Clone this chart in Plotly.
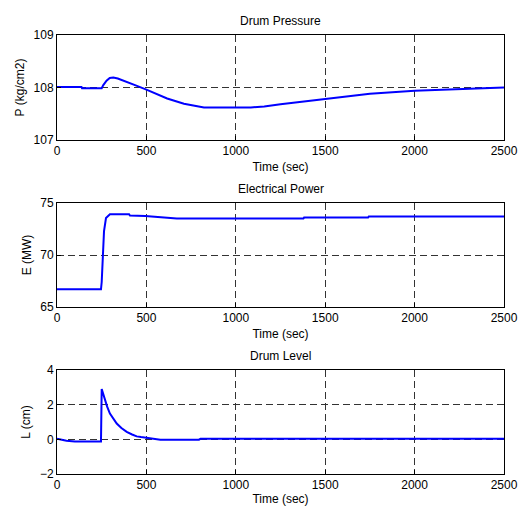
import plotly.graph_objects as go

# ---- data ----
t_pressure = [0, 137, 140, 250, 259, 277, 295, 315, 340, 390, 440, 500, 560, 616, 710,
              822, 1084, 1159, 1250, 1309, 1500, 1750, 2000, 2250, 2500]
pressure = [108.01, 108.01, 107.985, 107.985, 108.045, 108.13, 108.18, 108.19, 108.17,
            108.11, 108.04, 107.96, 107.87, 107.79, 107.69, 107.62, 107.62, 107.64,
            107.68, 107.705, 107.78, 107.88, 107.94, 107.975, 108.0]

t_power = [0, 246, 250, 255, 263, 274, 296, 403, 408, 493, 540, 670, 1378, 1382,
           1740, 1744, 2500]
power = [66.7, 66.7, 67.4, 70.0, 72.3, 73.55, 73.92, 73.92, 73.8, 73.75, 73.68, 73.5,
         73.5, 73.6, 73.6, 73.7, 73.7]

t_level = [0, 53, 100, 246, 250, 268, 280, 296, 315, 334, 360, 390, 420, 446, 470,
           500, 578, 794, 803, 2500]
level = [0.04, -0.08, -0.13, -0.13, 2.9, 2.26, 1.9, 1.49, 1.18, 0.91, 0.65, 0.43, 0.28,
         0.17, 0.13, 0.1, -0.02, -0.02, 0.04, 0.03]

titles = ["Drum Pressure", "Electrical Power", "Drum Level"]
ylabels = ["P (kg/cm2)", "E (MW)", "L (cm)"]
yranges = [[107, 109], [65, 75], [-2, 4]]
ydticks = [1, 5, 2]
xlabel = "Time (sec)"

FONT = "Liberation Sans, Arial, sans-serif"
domains = [[0.7608, 1.0], [0.3804, 0.6173], [0.0, 0.2369]]

fig = go.Figure()
series = [(t_pressure, pressure), (t_power, power), (t_level, level)]
for i, (tx, vy) in enumerate(series):
    n = "" if i == 0 else str(i + 1)
    fig.add_trace(go.Scatter(x=tx, y=vy, mode="lines",
                             line=dict(color="#0000FF", width=2),
                             xaxis="x" + n, yaxis="y" + n, showlegend=False))
    axcommon = dict(showline=True, linecolor="black", linewidth=1, mirror=True,
                    ticks="inside", ticklen=4, tickcolor="black", automargin=False,
                    showgrid=True, gridcolor="#333333", gridwidth=1, griddash="7px,4px",
                    zeroline=False, tickfont=dict(size=12, color="black", family=FONT))
    fig.layout["xaxis" + n] = dict(axcommon, domain=[0, 1], range=[0, 2500], dtick=500,
                                   anchor="y" + n,
                                   title=dict(text=xlabel, standoff=5,
                                              font=dict(size=12, color="black", family=FONT)))
    fig.layout["yaxis" + n] = dict(axcommon, domain=domains[i], range=yranges[i],
                                   dtick=ydticks[i], anchor="x" + n,
                                   title=dict(text=ylabels[i], standoff=6,
                                              font=dict(size=12, color="black", family=FONT)))
    fig.add_annotation(text=titles[i], xref="paper", yref="paper", x=0.5,
                       y=domains[i][1], yanchor="bottom", yshift=5, showarrow=False,
                       font=dict(size=12, color="black", family=FONT))

fig.update_layout(width=518, height=506, margin=dict(l=57, r=14, t=35, b=32, autoexpand=False),
                  paper_bgcolor="white", plot_bgcolor="white",
                  font=dict(family=FONT, size=12, color="black"))
fig.write_html("out.html")
